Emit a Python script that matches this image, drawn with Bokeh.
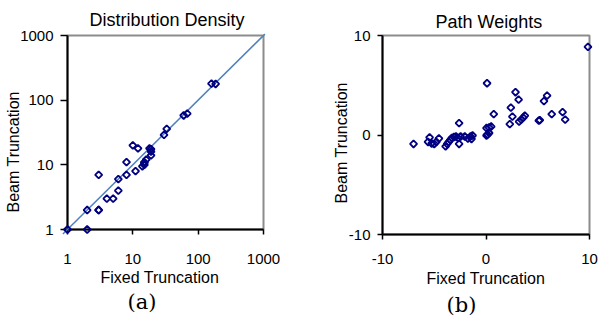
import math
from bokeh.plotting import figure
from bokeh.models import FixedTicker, PrintfTickFormatter, Range1d, Title
from bokeh.layouts import row
from bokeh.embed import file_html
from bokeh.resources import INLINE

# ---------------- data ----------------
# (a) Distribution Density (log-log)
dens_fixed = [1, 2, 2, 3, 3, 3, 4, 5, 6, 6, 8, 8, 10, 11, 12, 14, 15, 15, 15, 16,
              19, 19, 19, 18, 30, 33, 60, 68, 160, 185]
dens_beam = [1, 1, 2, 2, 2, 7, 3, 3, 4, 6, 7, 11, 20, 8, 18, 9.5, 10, 10.6, 11, 12,
             14, 16, 17.5, 18, 29, 36, 58, 62, 180, 178]
diag_x = [0.85, 1050]
diag_y = [0.85, 1050]
ticks_a = [1, 10, 100, 1000]

# (b) Path Weights (linear)
path_fixed = [-7.0, -5.6, -5.45, -5.25, -5.0, -4.8, -4.55, -3.9, -3.75, -3.6, -3.45, -3.3,
              -3.1, -2.9, -2.7, -2.6, -2.6, -2.45, -2.05, -1.75, -1.5, -1.3, -1.4,
              0.05, 0.05, 0.15, 0.1, 0.3, 0.3, 0.5, 0.75, 2.3, 2.4, 2.55, 2.85, 3.15,
              3.2, 3.4, 3.6, 3.75, 5.1, 5.2, 5.6, 5.9, 6.35, 7.4, 7.65, 9.85]
path_beam = [-0.9, -0.7, -0.25, -0.85, -0.9, -0.7, -0.35, -1.15, -0.9, -0.7, -0.5, -0.3,
             -0.2, -0.15, -0.3, -0.9, 1.2, -0.15, -0.15, -0.35, -0.15, -0.05, -0.4,
             -0.05, 0.7, 0.05, 5.2, 0.75, 0.2, 0.85, 2.1, 1.1, 2.75, 1.85, 4.3, 3.55,
             1.35, 1.55, 1.75, 1.95, 1.45, 1.5, 3.4, 3.95, 2.1, 2.3, 1.55, 8.85]
ticks_b = [-10, 0, 10]

titles = ["Distribution Density", "Path Weights"]
x_label = "Fixed Truncation"
y_label = "Beam Truncation"
captions = ["(a)", "(b)"]

FONT = "Liberation Sans"
SERIF = "DejaVu Serif"
MARK = "#000080"


def style_axes(p, ticks, ytick_out, xstandoff):
    p.xgrid.visible = False
    p.ygrid.visible = False
    p.outline_line_color = "#8c8c8c"
    p.outline_line_width = 2
    for ax, tout in ((p.xaxis, 5), (p.yaxis, ytick_out)):
        ax.ticker = FixedTicker(ticks=ticks)
        ax.formatter = PrintfTickFormatter(format="%d")
        ax.axis_line_color = "black"
        ax.axis_line_width = 2
        ax.major_tick_line_color = "black"
        ax.major_tick_line_width = 1.5
        ax.major_tick_in = 0
        ax.major_tick_out = tout
        ax.minor_tick_line_color = None
        ax.major_label_text_font = FONT
        ax.major_label_text_font_size = "15px"
        ax.major_label_text_color = "black"
    p.xaxis.major_label_standoff = xstandoff
    p.yaxis.major_label_standoff = 7


def add_texts(p, title, t_off, t_so, yl_off, xl_off, xl_so, cap, cap_off):
    p.title = Title(text=title, align="left", offset=t_off, standoff=t_so,
                    text_font=FONT, text_font_size="18px", text_font_style="normal",
                    text_color="black")
    p.add_layout(Title(text=y_label, align="left", offset=yl_off, standoff=-8,
                       text_font=FONT, text_font_size="16px", text_font_style="normal",
                       text_color="black"), "left")
    p.add_layout(Title(text=x_label, align="left", offset=xl_off, standoff=xl_so,
                       vertical_align="top",
                       text_font=FONT, text_font_size="16px", text_font_style="normal",
                       text_color="black"), "below")
    p.add_layout(Title(text=cap, align="left", offset=cap_off, standoff=0,
                       vertical_align="top",
                       text_font=SERIF, text_font_size="21px", text_font_style="normal",
                       text_color="black"), "below")


# ---------------- (a) ----------------
p1 = figure(x_axis_type="log", y_axis_type="log",
            x_range=Range1d(ticks_a[0], ticks_a[-1]), y_range=Range1d(ticks_a[0], ticks_a[-1]),
            frame_width=196, frame_height=194,
            min_border_left=67, min_border_right=37, min_border_top=35, min_border_bottom=91,
            output_backend="svg", toolbar_location=None,
            background_fill_color="white", border_fill_color="white")
style_axes(p1, ticks_a, 7, 19)
p1.line(diag_x, diag_y, line_color="#4F81BD", line_width=1.5, level="overlay")
p1.scatter(dens_fixed, dens_beam, marker="square", size=5, angle=math.pi / 4,
           line_color=MARK, fill_color=None, line_width=1.8, level="overlay")
add_texts(p1, titles[0], 22, 12, 17, 33, 4, captions[0], 60)

# ---------------- (b) ----------------
p2 = figure(x_range=Range1d(ticks_b[0], ticks_b[-1]), y_range=Range1d(ticks_b[0], ticks_b[-1]),
            frame_width=207, frame_height=199,
            min_border_left=82, min_border_right=9, min_border_top=33, min_border_bottom=88,
            output_backend="svg", toolbar_location=None,
            background_fill_color="white", border_fill_color="white")
style_axes(p2, ticks_b, 5, 14)
p2.scatter(path_fixed, path_beam, marker="square", size=5, angle=math.pi / 4,
           line_color=MARK, fill_color=None, line_width=1.8, level="overlay")
add_texts(p2, titles[1], 53, 8, 31, 44, 7, captions[1], 64)

layout = row(p1, p2)
open("out.html", "w").write(file_html(layout, INLINE))
